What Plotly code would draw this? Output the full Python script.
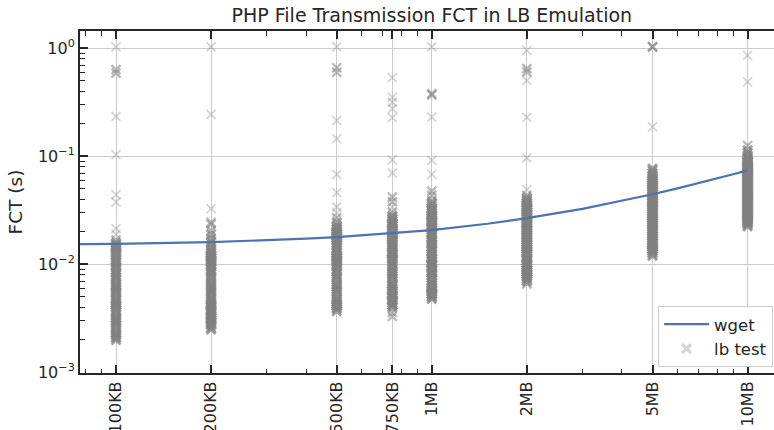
import numpy as np
import plotly.graph_objects as go

# ---------------- data ----------------
sizes_kb = [100, 200, 500, 750, 1000, 2000, 5000, 10000]
size_labels = ["100KB", "200KB", "500KB", "750KB", "1MB", "2MB", "5MB", "10MB"]

# lb test FCT samples (milliseconds)
lb_100KB_ms = [2.0, 2.1, 2.2, 2.3, 2.45, 2.6, 2.75, 2.9, 3.05, 3.2, 3.4, 3.6, 3.8, 4.0, 4.2, 4.4,
               4.65, 4.9, 5.2, 5.5, 5.8, 6.1, 6.4, 6.8, 7.2, 7.6, 8.0, 8.4, 8.9, 9.4, 9.9, 10.4,
               11.0, 11.6, 12.2, 12.9, 13.6, 14.3, 15.0, 15.7,
               16.8, 19.0, 21.4, 37.7, 44.2, 104, 234, 590, 635, 1030]
lb_200KB_ms = [2.5, 2.6, 2.75, 2.9, 3.05, 3.2, 3.35, 3.5, 3.7, 3.9, 4.1, 4.3, 4.5, 4.75, 5.0, 5.3,
               5.6, 5.9, 6.2, 6.5, 6.9, 7.3, 7.7, 8.1, 8.5, 9.0, 9.5, 10.0, 10.5, 11.0, 11.6, 12.2,
               12.8, 13.5, 14.2, 15.0, 16.0,
               17.3, 19.0, 20.6, 23.5, 24.5, 32.8, 245, 1030]
lb_500KB_ms = [3.7, 3.9, 4.1, 4.3, 4.5, 4.75, 5.0, 5.3, 5.6, 5.9, 6.2, 6.5, 6.9, 7.3, 7.7, 8.1,
               8.5, 9.0, 9.5, 10.0, 10.5, 11.0, 11.6, 12.2, 12.8, 13.5, 14.2, 15.0, 15.8, 16.6,
               17.5, 18.4, 19.4, 20.4, 21.5, 22.6,
               24.5, 27.0, 30.0, 34.0, 46.1, 68, 146, 215, 600, 660, 1030]
lb_750KB_ms = [3.3, 3.6, 4.0, 4.2, 4.4, 4.65, 4.9, 5.15, 5.4, 5.7, 6.0, 6.3, 6.6, 7.0, 7.4, 7.8,
               8.2, 8.6, 9.1, 9.6, 10.1, 10.6, 11.2, 11.8, 12.4, 13.0, 13.7, 14.4, 15.2, 16.0,
               16.8, 17.7, 18.6, 19.6, 20.6, 21.7, 22.8, 24.0, 25.3, 26.6, 28.0,
               30.5, 34.0, 38.0, 42.0, 70, 93, 228, 276, 318, 354, 535]
lb_1MB_ms = [4.8, 5.0, 5.25, 5.5, 5.8, 6.1, 6.4, 6.75, 7.1, 7.5, 7.9, 8.3, 8.7, 9.2, 9.7, 10.2,
             10.7, 11.3, 11.9, 12.5, 13.2, 13.9, 14.6, 15.4, 16.2, 17.0, 17.9, 18.9, 19.9, 20.9,
             22.0, 23.2, 24.4, 25.7, 27.0, 28.4, 29.9, 31.5, 33.2, 35.0, 36.8,
             39.0, 43.5, 47.7, 68, 92, 231, 370, 380, 1030]
lb_2MB_ms = [6.6, 7.0, 7.35, 7.7, 8.1, 8.5, 8.9, 9.35, 9.8, 10.3, 10.8, 11.4, 12.0, 12.6, 13.2,
             13.9, 14.6, 15.3, 16.1, 16.9, 17.8, 18.7, 19.6, 20.6, 21.6, 22.7, 23.9, 25.1, 26.4,
             27.7, 29.1, 30.6, 32.1, 33.7, 35.4, 37.2, 39.1,
             41.0, 43.5, 49.2, 97, 230, 505, 604, 649, 958]
lb_5MB_ms = [12.0, 12.6, 13.2, 13.8, 14.5, 15.2, 15.9, 16.7, 17.5, 18.3, 19.2, 20.1, 21.1, 22.1,
             23.2, 24.3, 25.5, 26.7, 28.0, 29.4, 30.8, 32.3, 33.9, 35.5, 37.2, 39.0, 40.9, 42.9,
             45.0, 47.2, 49.5, 51.9, 54.4, 57.0, 59.8, 62.7,
             66, 70, 74, 77, 187, 1025, 1035]
lb_10MB_ms = [22.5, 23.4, 24.3, 25.3, 26.3, 27.4, 28.5, 29.6, 30.8, 32.0, 33.3, 34.6, 36.0, 37.5,
              39.0, 40.5, 42.1, 43.8, 45.6, 47.4, 49.3, 51.3, 53.4, 55.5, 57.7, 60.0, 62.4, 64.9,
              67.5, 70.2, 73.0, 75.9, 79.0, 82.1, 85.4, 88.8, 92.4,
              96, 102, 108, 114, 126, 488, 861]
lb_samples_ms = [lb_100KB_ms, lb_200KB_ms, lb_500KB_ms, lb_750KB_ms,
                 lb_1MB_ms, lb_2MB_ms, lb_5MB_ms, lb_10MB_ms]

# wget FCT (seconds) per file size (KB)
wget_size_kb = [50, 100, 200, 300, 400, 500, 750, 1000, 1500, 2000, 3000, 4000, 5000,
                6000, 7000, 8000, 9000, 10000]
wget_fct_s = [0.0152, 0.0155, 0.0161, 0.0167, 0.0173, 0.0179, 0.0194, 0.0208, 0.0238, 0.0268,
              0.0327, 0.0386, 0.0446, 0.0505, 0.0564, 0.0623, 0.0683, 0.0742]

y_tickvals = [1e-3, 1e-2, 1e-1, 1.0]
y_ticktext = ["10<sup>\u22123</sup>", "10<sup>\u22122</sup>", "10<sup>\u22121</sup>", "10<sup>0</sup>"]

# ---- emulate the stacking of many overlapping translucent markers ----
BASE_ALPHA = 0.33
xs, ys, alphas, widths = [], [], [], []
for size, vals in zip(sizes_kb, lb_samples_ms):
    v = np.asarray(vals, dtype=float) / 1000.0
    lv = np.log10(v)
    n = (np.abs(lv[:, None] - lv[None, :]) < 0.045).sum(axis=1)
    xs.extend([size] * len(v))
    ys.extend(v.tolist())
    alphas.extend((1 - (1 - BASE_ALPHA) ** n).tolist())
    widths.extend(np.minimum(1.8 + 0.55 * (n - 1), 4.0).tolist())
order = np.argsort(alphas, kind="stable")
xs = [xs[i] for i in order]
ys = [ys[i] for i in order]
widths = [widths[i] for i in order]
colors = [f"rgba(128,128,128,{alphas[i]:.3f})" for i in order]

INK = "#262626"
fig = go.Figure()
fig.add_trace(go.Scatter(
    x=xs, y=ys, mode="markers", name="lb test", legendrank=2,
    marker=dict(symbol="x-thin", size=9, color=colors,
                line=dict(width=widths, color=colors)),
))
fig.add_trace(go.Scatter(
    x=wget_size_kb, y=wget_fct_s, mode="lines", name="wget", legendrank=1,
    line=dict(color="#4c72b0", width=2.2),
))

x_minor = [m * 10 ** e for e in range(1, 5) for m in range(2, 10)]
x_minor = [v for v in x_minor if 76 < v < 12100 and v not in sizes_kb]
y_minor = [m * 10.0 ** e for e in range(-4, 1) for m in range(2, 10)]
y_minor = [v for v in y_minor if 0.00098 < v < 1.44]

fig.update_layout(
    width=774, height=430,
    margin=dict(l=80, r=0, t=31, b=57),
    plot_bgcolor="white", paper_bgcolor="white",
    font=dict(family="DejaVu Sans", size=16, color=INK),
    title=dict(text="PHP File Transmission FCT in LB Emulation", x=0.507, xref="paper",
               xanchor="center", y=1 - 15.5 / 430, yanchor="middle", automargin=False,
               font=dict(size=19, color=INK)),
    legend=dict(x=0.833, y=0.196, xanchor="left", yanchor="top", bgcolor="white",
                bordercolor="#cccccc", borderwidth=1, itemwidth=45,
                font=dict(size=16.5, color=INK)),
)
fig.update_xaxes(
    type="log", range=[1.886, 4.0836], tickmode="array", tickvals=sizes_kb,
    ticktext=size_labels, tickangle=-90, ticks="inside", ticklen=8, tickwidth=1.6,
    tickcolor=INK, showline=True, linecolor=INK, linewidth=2, mirror="allticks",
    showgrid=True, gridcolor="#cccccc", gridwidth=1.3, zeroline=False, automargin=False,
    minor=dict(tickmode="array", tickvals=x_minor, ticks="inside", ticklen=4.5,
               tickwidth=1.2, tickcolor=INK, showgrid=False),
)
fig.update_yaxes(
    type="log", range=[-3.0046, 0.160], tickmode="array", tickvals=y_tickvals,
    ticktext=y_ticktext, ticks="inside", ticklen=8, tickwidth=1.6, tickcolor=INK,
    showline=True, linecolor=INK, linewidth=2, mirror=False, automargin=False,
    showgrid=True, gridcolor="#cccccc", gridwidth=1.3, zeroline=False,
    minor=dict(tickmode="array", tickvals=y_minor, ticks="inside", ticklen=4.5,
               tickwidth=1.2, tickcolor=INK, showgrid=False),
    title=dict(text="FCT (s)", font=dict(size=18.5, color=INK), standoff=10),
)

fig.write_html("out.html", config={"displayModeBar": False},
               post_script="document.body.style.margin='0';document.body.style.overflow='hidden';")
